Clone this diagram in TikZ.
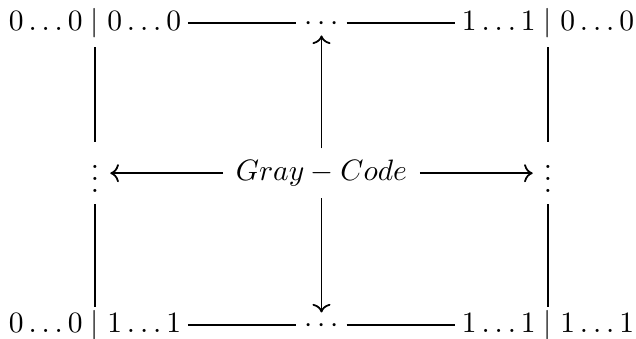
\documentclass[tikz,border=0pt]{standalone}
\usetikzlibrary{arrows.meta}

\tikzset{
  corner/.style={text height=7.5pt, text depth=2.5pt, inner xsep=2pt},
  dotsh/.style={text height=5.5pt, text depth=0.5pt, inner xsep=2.4pt, inner ysep=1pt},
  dotsv/.style={text height=14.5pt, text depth=1.7pt, inner xsep=3.5pt, inner ysep=2.1pt},
  codebox/.style={text height=7.5pt, text depth=2.5pt, inner xsep=4pt, inner ysep=3.1pt}
}

\begin{document}
\begin{tikzpicture}[>=To, semithick]
        \useasboundingbox (0,0) rectangle (7.575,4.028);
        % Corner states
        \node[corner, inner ysep=3pt] (tl) at (1.131,3.757) {$0\ldots0\mid0\ldots0$};
        \node[corner, inner ysep=3pt] (tr) at (6.527,3.757) {$1\ldots1\mid0\ldots0$};
        \node[corner, inner ysep=0.8pt] (bl) at (1.131,0.155) {$0\ldots0\mid1\ldots1$};
        \node[corner, inner ysep=0.8pt] (br) at (6.527,0.155) {$1\ldots1\mid1\ldots1$};
        % Dots between them
        \node[dotsh] (tm) at (3.829,3.757) {$\cdots$};
        \node[dotsh] (bm) at (3.829,0.155) {$\cdots$};
        \node[dotsv] (ml) at (1.131,1.965) {$\vdots$};
        \node[dotsv] (mr) at (6.527,1.965) {$\vdots$};
        % Centre label
        \node[codebox] (gc) at (3.829,1.965) {$Gray - Code$};
        % Frame lines
        \draw (tl) -- (tm);
        \draw (tm) -- (tr);
        \draw (bl) -- (bm);
        \draw (bm) -- (br);
        \draw (tl) -- (ml);
        \draw (ml) -- (bl);
        \draw (tr) -- (mr);
        \draw (mr) -- (br);
        % Arrows out of the centre
        \draw [->] (gc) -- (tm);
        \draw [->] (gc) -- (bm);
        \draw [->] (gc) -- (ml);
        \draw [->] (gc) -- (mr);
    \end{tikzpicture}
\end{document}
